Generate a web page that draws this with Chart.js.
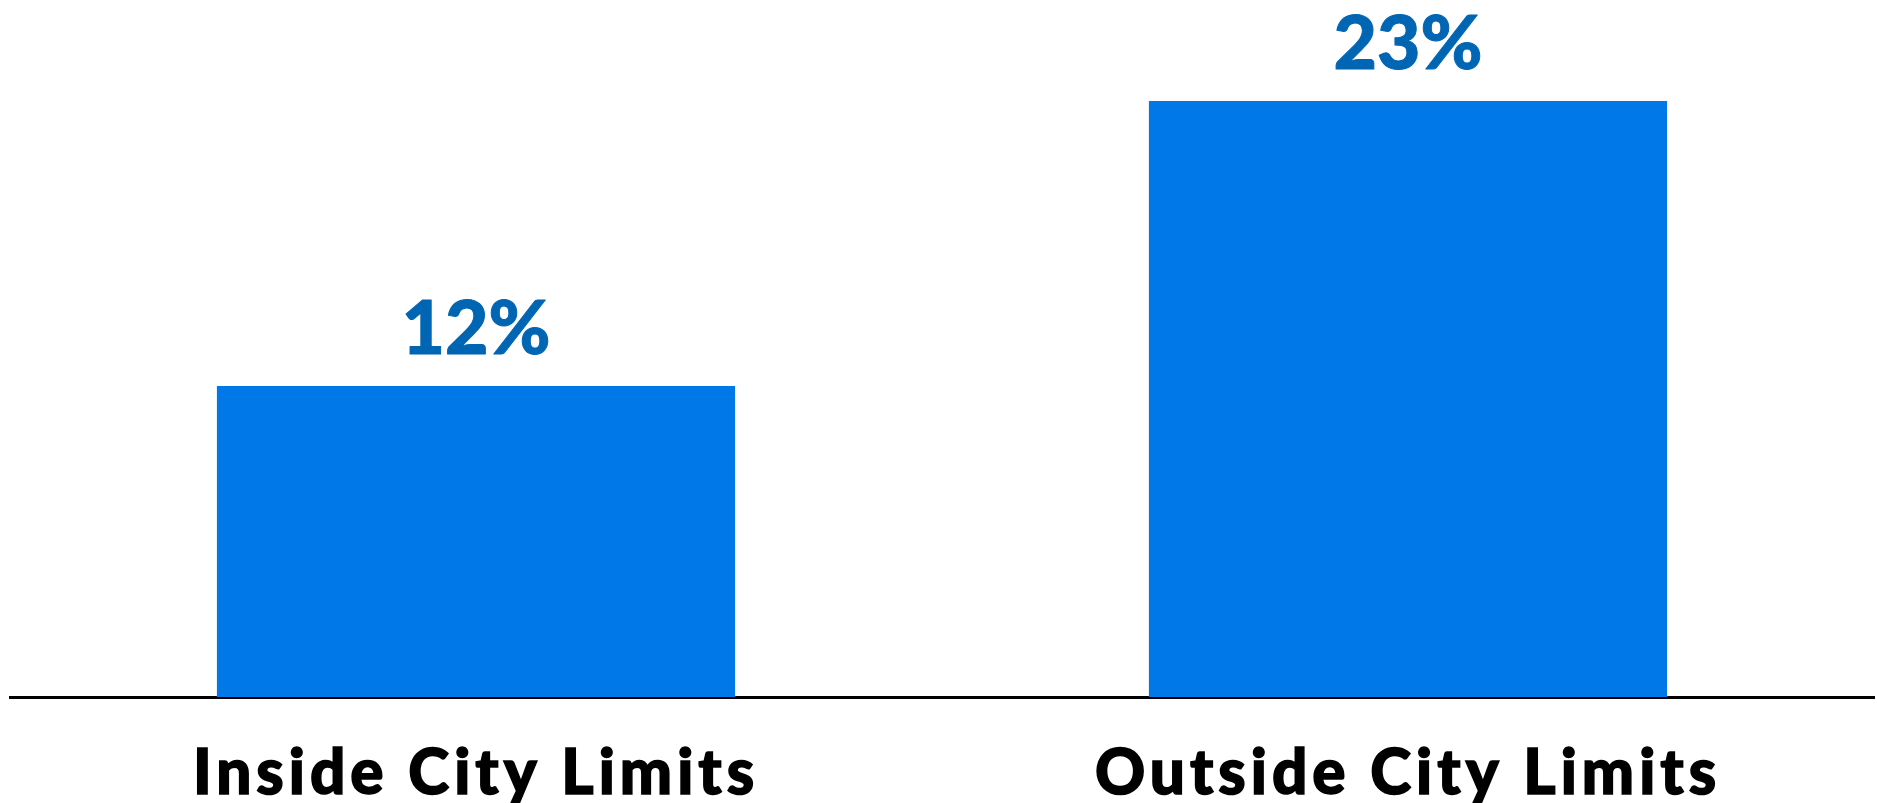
<!DOCTYPE html>
<html>
<head>
<meta charset="utf-8">
<script src="https://cdn.jsdelivr.net/npm/chart.js@4/dist/chart.umd.min.js"></script>
<style>
  html, body { margin: 0; padding: 0; background: #fff; }
  #wrap { width: 1877px; height: 803px; position: relative; }
</style>
</head>
<body>
<div id="wrap"><canvas id="myChart"></canvas></div>
<script>
const categories = ["Inside City Limits", "Outside City Limits"];
const shareValues = [12, 23];
const valueLabels = ["12%", "23%"];

const BAR_COLOR = "#0078e8";
const LABEL_COLOR = "#0066b3";

// wider tracking for the category labels (the original font is broader)
const trackingPlugin = {
  id: "tracking",
  beforeDraw(chart) {
    chart.ctx.letterSpacing = "5px";
  },
};

// draws the percentage above each bar
const valueLabelPlugin = {
  id: "valueLabels",
  afterDatasetsDraw(chart) {
    const ctx = chart.ctx;
    const meta = chart.getDatasetMeta(0);
    ctx.save();
    ctx.letterSpacing = "0px";
    ctx.fillStyle = LABEL_COLOR;
    ctx.strokeStyle = LABEL_COLOR;
    ctx.lineWidth = 1;
    ctx.lineJoin = "round";
    ctx.font = "900 75px Lato, 'DejaVu Sans', sans-serif";
    ctx.textAlign = "center";
    ctx.textBaseline = "alphabetic";
    meta.data.forEach((bar, i) => {
      ctx.strokeText(valueLabels[i], bar.x, bar.y - 32);
      ctx.fillText(valueLabels[i], bar.x, bar.y - 32);
    });
    ctx.restore();
  },
};

drawChart();

function drawChart() {
  const ctx = document.getElementById("myChart");

  new Chart(ctx, {
    type: "bar",
    data: {
      labels: categories,
      datasets: [
        {
          label: "Share",
          data: shareValues,
          backgroundColor: BAR_COLOR,
          borderWidth: 0,
          barPercentage: 0.556,
          categoryPercentage: 1,
        },
      ],
    },
    plugins: [trackingPlugin, valueLabelPlugin],
    options: {
      responsive: true,
      maintainAspectRatio: false,
      animation: false,
      layout: {
        padding: { left: 10, right: 3, top: 0, bottom: 0 },
      },
      plugins: {
        legend: { display: false },
        tooltip: { enabled: false },
      },
      scales: {
        x: {
          grid: { display: false, drawTicks: false },
          border: { display: true, color: "#000", width: 3 },
          ticks: {
            color: "#000",
            padding: 40,
            textStrokeColor: "#000",
            textStrokeWidth: 1.5,
            font: { family: "Lato, 'DejaVu Sans', sans-serif", size: 62, weight: "900" },
          },
          afterFit(scale) {
            scale.height = 106;
          },
        },
        y: {
          display: false,
          min: 0,
          max: 26.9,
        },
      },
    },
  });
}
</script>
</body>
</html>
